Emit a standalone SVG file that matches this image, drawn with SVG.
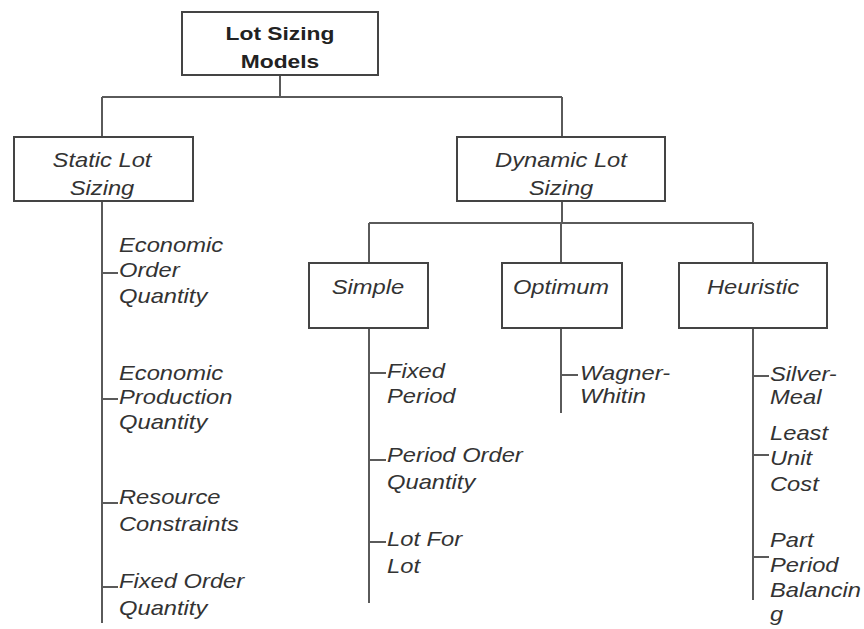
<svg xmlns="http://www.w3.org/2000/svg" width="864" height="629" viewBox="0 0 864 629">
  <style>
    .box { fill: #ffffff; stroke: #444444; stroke-width: 2; }
    .ln { stroke: #5a5a5a; stroke-width: 2; fill: none; }
    .title { font-family: "Liberation Sans", Arial, sans-serif; font-weight: bold; font-size: 19px; fill: #222222; text-anchor: middle; }
    .lbl { font-family: "Liberation Sans", Arial, sans-serif; font-style: italic; font-size: 21px; fill: #333333; }
    .mid { text-anchor: middle; }
  </style>
  <rect width="864" height="629" fill="#ffffff"/>

  <!-- tree connectors -->
  <g id="connectors" class="ln">
    <path d="M280 75V97M102 97H562M102 97V137M562 97V137"/>
    <path d="M102 201V623M102 273H118M102 399H118M102 503H118M102 587H118"/>
    <path d="M562 201V223M369 223H753M369 223V263M561 223V263M753 223V263"/>
    <path d="M369 328V603M369 373H386M369 460H386M369 542H386"/>
    <path d="M561 328V413M561 375H578"/>
    <path d="M753 328V600M753 376H769M753 455H769M753 557H769"/>
  </g>

  <g id="root">
    <rect class="box" x="182" y="12" width="196" height="63"/>
    <text class="title" transform="translate(280 40) scale(1.2 1)"><tspan x="0" y="0">Lot Sizing</tspan><tspan x="0" y="28">Models</tspan></text>
  </g>

  <g id="static">
    <rect class="box" x="14" y="137" width="179" height="64"/>
    <text class="lbl mid" transform="translate(102 167) scale(1.13 1)"><tspan x="0" y="0">Static Lot</tspan><tspan x="0" y="28">Sizing</tspan></text>
  </g>

  <g id="dynamic">
    <rect class="box" x="457" y="137" width="208" height="64"/>
    <text class="lbl mid" transform="translate(561 167) scale(1.13 1)"><tspan x="0" y="0">Dynamic Lot</tspan><tspan x="0" y="28">Sizing</tspan></text>
  </g>

  <g id="simple">
    <rect class="box" x="309" y="263" width="119" height="65"/>
    <text class="lbl mid" transform="translate(368 294) scale(1.13 1)">Simple</text>
  </g>

  <g id="optimum">
    <rect class="box" x="502" y="263" width="120" height="65"/>
    <text class="lbl mid" transform="translate(561 294) scale(1.13 1)">Optimum</text>
  </g>

  <g id="heuristic">
    <rect class="box" x="679" y="263" width="148" height="65"/>
    <text class="lbl mid" transform="translate(753 294) scale(1.13 1)">Heuristic</text>
  </g>

  <!-- static lot sizing methods -->
  <g id="eoq">
    <text class="lbl" transform="translate(119 252) scale(1.13 1)"><tspan x="0" y="0">Economic</tspan><tspan x="0" y="25.5">Order</tspan><tspan x="0" y="51">Quantity</tspan></text>
  </g>
  <g id="epq">
    <text class="lbl" transform="translate(119 380) scale(1.13 1)"><tspan x="0" y="0">Economic</tspan><tspan x="0" y="24.5">Production</tspan><tspan x="0" y="49">Quantity</tspan></text>
  </g>
  <g id="resource">
    <text class="lbl" transform="translate(119 504) scale(1.13 1)"><tspan x="0" y="0">Resource</tspan><tspan x="0" y="27">Constraints</tspan></text>
  </g>
  <g id="foq">
    <text class="lbl" transform="translate(119 588) scale(1.13 1)"><tspan x="0" y="0">Fixed Order</tspan><tspan x="0" y="27">Quantity</tspan></text>
  </g>

  <!-- simple methods -->
  <g id="fixed-period">
    <text class="lbl" transform="translate(387 378) scale(1.13 1)"><tspan x="0" y="0">Fixed</tspan><tspan x="0" y="25">Period</tspan></text>
  </g>
  <g id="poq">
    <text class="lbl" transform="translate(387 462) scale(1.13 1)"><tspan x="0" y="0">Period Order</tspan><tspan x="0" y="27">Quantity</tspan></text>
  </g>
  <g id="lfl">
    <text class="lbl" transform="translate(387 546) scale(1.13 1)"><tspan x="0" y="0">Lot For</tspan><tspan x="0" y="27">Lot</tspan></text>
  </g>

  <!-- optimum method -->
  <g id="wagner-whitin">
    <text class="lbl" transform="translate(580 380) scale(1.13 1)"><tspan x="0" y="0">Wagner-</tspan><tspan x="0" y="23">Whitin</tspan></text>
  </g>

  <!-- heuristic methods -->
  <g id="silver-meal">
    <text class="lbl" transform="translate(770 381) scale(1.13 1)"><tspan x="0" y="0">Silver-</tspan><tspan x="0" y="23">Meal</tspan></text>
  </g>
  <g id="luc">
    <text class="lbl" transform="translate(770 440) scale(1.13 1)"><tspan x="0" y="0">Least</tspan><tspan x="0" y="25.5">Unit</tspan><tspan x="0" y="51">Cost</tspan></text>
  </g>
  <g id="ppb">
    <text class="lbl" transform="translate(770 547) scale(1.13 1)"><tspan x="0" y="0">Part</tspan><tspan x="0" y="25">Period</tspan><tspan x="0" y="50">Balancin</tspan><tspan x="0" y="74">g</tspan></text>
  </g>
</svg>
